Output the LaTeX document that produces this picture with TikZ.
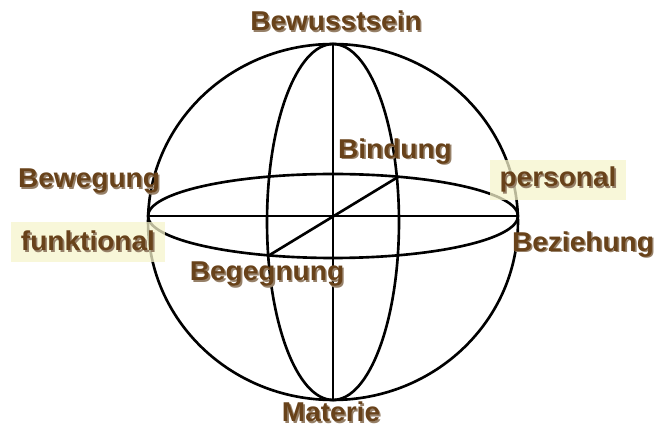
\documentclass[tikz,border=0pt]{standalone}
\usepackage{fontspec}
\usepackage{xcolor}
\setmainfont{Liberation Sans}
\usetikzlibrary{positioning}
\definecolor{labelBrown}{RGB}{104,66,26}
\definecolor{shadeBrown}{RGB}{150,128,104}
\definecolor{paleYellow}{RGB}{246,244,204}
\newcommand{\shadedword}[1]{\scalebox{1.03}[1]{\makebox[0pt][l]{\hspace{0.9pt}\raisebox{-1.1pt}{\textcolor{shadeBrown}{#1}}}\textcolor{labelBrown}{#1}}}
\tikzset{
    sphereline/.style={draw=black, line width=1.5pt},
    polelabel/.style={
        inner sep=0pt,
        font=\bfseries\fontsize{15.5}{17}\selectfont
    },
    tagbox/.style={
        polelabel,
        rectangle,
        fill=paleYellow,
        fill opacity=0.75,
        text opacity=1,
        minimum height=0.8cm
    }
}

\begin{document}
\begin{tikzpicture}[x=0.02cm, y=-0.02cm]
    \useasboundingbox (0,0) rectangle (659,428);

    % sphere outline and the two great circles
    \coordinate (centre) at (333,222);
    \coordinate (equator) at (333,216);
    \coordinate (top) at (333,44);
    \coordinate (bottom) at (333,400);
    \coordinate (west) at (148,216);
    \coordinate (east) at (518,216);
    \coordinate (frontleft) at (268,256);
    \coordinate (backright) at (398,177);

    \draw[sphereline] (centre) ellipse [x radius=3.7cm, y radius=3.56cm];
    \draw[sphereline] (centre) ellipse [x radius=1.32cm, y radius=3.56cm];
    \draw[sphereline] (equator) ellipse [x radius=3.7cm, y radius=0.84cm];

    % axes
    \draw[sphereline] (top) -- (bottom);
    \draw[sphereline] (west) -- (east);
    \draw[sphereline] (frontleft) -- (backright);

    % labels
    \node[polelabel] (bewusstsein) at (336,22) {\shadedword{Bewusstsein}};
    \node[polelabel] (materie) at (331,413) {\shadedword{Materie}};
    \node[polelabel] (bindung) at (395,152) {\shadedword{Bindung}};
    \node[polelabel] (begegnung) at (267,275) {\shadedword{Begegnung}};
    \node[polelabel] (bewegung) at (89,182) {\shadedword{Bewegung}};
    \node[polelabel] (beziehung) at (583,245) {\shadedword{Beziehung}};
    \node[tagbox, minimum width=2.74cm] (personal) at (558,180) {\shadedword{personal}};
    \node[tagbox, minimum width=3.08cm] (funktional) at (88,242) {\shadedword{funktional}};
\end{tikzpicture}
\end{document}
